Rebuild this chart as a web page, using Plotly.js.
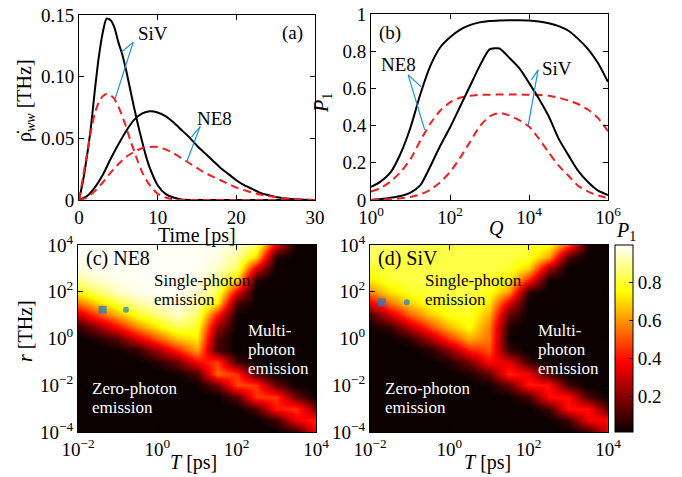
<!DOCTYPE html>
<html>
<head>
<meta charset="utf-8">
<script src="https://cdn.plot.ly/plotly-3.0.1.min.js"></script>
<style>html,body{margin:0;padding:0;background:#fff;}#chart{width:682px;height:477px;}</style>
</head>
<body>
<div id="chart"></div>
<script>
// ---------- Panel (a): emission rate vs time ----------
const tSiV = [0,0.5,1,1.5,2,2.5,3,3.5,4,4.5,5,5.5,6,6.5,7,7.5,8,8.5,9,10,11,12,13,15,20,30];
const sivSolidA = [0,0.015,0.035,0.058,0.088,0.115,0.135,0.147,0.146,0.14,0.128,0.118,0.105,0.09,0.075,0.061,0.048,0.036,0.026,0.012,0.005,0.002,0.0005,0,0,0];
const sivDashA  = [0,0.018,0.037,0.055,0.07,0.079,0.084,0.086,0.085,0.082,0.076,0.068,0.059,0.049,0.04,0.031,0.023,0.017,0.012,0.005,0.002,0.0005,0,0,0,0];
const tNE8 = [0,1,2,3,4,5,6,7,8,9,10,11,12,13,14,15,16,17,18,19,20,21,22,23,24,25,26,27,28,30];
const ne8SolidA = [0,0.003,0.01,0.02,0.033,0.045,0.056,0.065,0.07,0.072,0.071,0.068,0.063,0.057,0.051,0.044,0.038,0.032,0.026,0.021,0.016,0.012,0.009,0.006,0.004,0.0025,0.0015,0.0008,0.0004,0];
const ne8DashA  = [0,0.002,0.007,0.014,0.022,0.029,0.035,0.039,0.042,0.043,0.043,0.041,0.038,0.034,0.03,0.026,0.022,0.019,0.016,0.013,0.01,0.008,0.006,0.0045,0.0033,0.0023,0.0015,0.0009,0.0005,0];
const aXTicks = [0,10,20,30];
const aYTicks = [0,0.05,0.10,0.15];
const aYText  = ['0','0.05','0.10','0.15'];

// ---------- Panel (b): P1 vs Q ----------
const Q = [1,1.78,3.16,5.62,10,17.8,31.6,56.2,100,178,316,562,1000,1780,3160,5620,1e4,17800,31600,56200,1e5,178000,316000,562000,1e6];
const ne8SolidB = [0.07,0.1,0.15,0.25,0.39,0.57,0.72,0.82,0.875,0.915,0.94,0.955,0.962,0.965,0.966,0.966,0.965,0.96,0.95,0.935,0.91,0.865,0.81,0.735,0.635];
const ne8DashB  = [0.045,0.065,0.1,0.15,0.22,0.32,0.41,0.48,0.525,0.55,0.56,0.565,0.566,0.567,0.567,0.567,0.566,0.565,0.56,0.55,0.535,0.515,0.485,0.44,0.37];
const sivSolidB = [0,0.005,0.012,0.022,0.04,0.08,0.18,0.29,0.39,0.5,0.61,0.72,0.81,0.815,0.765,0.71,0.63,0.545,0.45,0.33,0.24,0.155,0.095,0.05,0.027];
const sivDashB  = [0,0.002,0.005,0.009,0.016,0.03,0.055,0.095,0.15,0.225,0.31,0.395,0.45,0.468,0.455,0.43,0.395,0.33,0.255,0.185,0.13,0.075,0.045,0.024,0.01];
const bXTicks = [1,100,1e4,1e6];
const bXText  = ['10<sup>0</sup>','10<sup>2</sup>','10<sup>4</sup>','10<sup>6</sup>'];
const bYTicks = [0,0.2,0.4,0.6,0.8,1];
const bYText  = ['0','0.2','0.4','0.6','0.8','1'];

// ---------- Panels (c),(d): P1 maps over log10 T (ps) and log10 r (THz) ----------
const logT = [-2,-1.5,-1,-0.5,0,0.5,1,1.5,2,2.5,3,3.5,4];
const logR = [-4,-3.5,-3,-2.5,-2,-1.5,-1,-0.5,0,0.5,1,1.5,2,2.5,3,3.5,4];
const pNE8 = [
 [0,0,0,0,0,0,0,0,0,0,0,0.07,0.36],
 [0,0,0,0,0,0,0,0,0,0,0.09,0.36,0.44],
 [0,0,0,0,0,0,0,0,0,0.11,0.41,0.46,0.18],
 [0,0,0,0,0,0,0,0,0.13,0.46,0.46,0.16,0.01],
 [0,0,0,0,0,0,0.01,0.16,0.49,0.46,0.14,0.01,0],
 [0,0,0,0,0,0.02,0.11,0.53,0.45,0.11,0.01,0,0],
 [0,0,0,0,0.05,0.16,0.38,0.47,0.10,0,0,0,0],
 [0,0,0.02,0.07,0.24,0.43,0.62,0.10,0,0,0,0,0],
 [0,0.04,0.13,0.32,0.50,0.66,0.73,0.11,0,0,0,0,0],
 [0.06,0.22,0.40,0.58,0.72,0.84,0.79,0.23,0,0,0,0,0],
 [0.30,0.48,0.64,0.78,0.87,0.945,0.86,0.42,0.01,0,0,0,0],
 [0.55,0.70,0.82,0.91,0.955,0.98,0.91,0.73,0.11,0,0,0,0],
 [0.76,0.86,0.945,0.98,0.99,0.99,0.95,0.85,0.35,0,0,0,0],
 [0.90,0.955,0.98,0.99,0.99,0.99,0.97,0.90,0.70,0.05,0,0,0],
 [0.965,0.99,0.99,0.99,0.99,0.99,0.99,0.95,0.85,0.35,0,0,0],
 [0.99,0.99,0.99,0.99,0.99,0.99,0.99,0.97,0.90,0.70,0.05,0,0],
 [0.99,0.99,0.99,0.99,0.99,0.99,0.99,0.99,0.95,0.85,0.35,0,0]
];
const pSiV = [
 [0,0,0,0,0,0,0,0,0,0,0,0.07,0.33],
 [0,0,0,0,0,0,0,0,0,0,0.09,0.37,0.39],
 [0,0,0,0,0,0,0,0,0,0.09,0.40,0.40,0.13],
 [0,0,0,0,0,0,0,0.01,0.10,0.40,0.40,0.11,0],
 [0,0,0,0,0,0,0.02,0.15,0.42,0.40,0.09,0,0],
 [0,0,0,0,0,0.03,0.14,0.44,0.36,0.09,0,0,0],
 [0,0,0,0,0.04,0.17,0.39,0.34,0.08,0,0,0,0],
 [0,0,0,0.05,0.20,0.42,0.50,0.07,0,0,0,0,0],
 [0,0,0.06,0.24,0.45,0.63,0.55,0.02,0,0,0,0,0],
 [0.01,0.08,0.28,0.48,0.65,0.76,0.57,0.04,0,0,0,0,0],
 [0.10,0.31,0.52,0.67,0.77,0.79,0.64,0.14,0,0,0,0,0],
 [0.35,0.55,0.69,0.78,0.81,0.81,0.72,0.33,0,0,0,0,0],
 [0.58,0.71,0.79,0.81,0.82,0.82,0.78,0.60,0.05,0,0,0,0],
 [0.73,0.80,0.82,0.82,0.82,0.82,0.81,0.74,0.42,0.02,0,0,0],
 [0.80,0.82,0.82,0.82,0.82,0.82,0.82,0.80,0.69,0.25,0,0,0],
 [0.84,0.83,0.82,0.82,0.82,0.82,0.82,0.82,0.79,0.62,0.11,0,0],
 [0.86,0.85,0.84,0.83,0.82,0.82,0.82,0.82,0.81,0.76,0.50,0.03,0]
];
// marked operating points (log10 T, log10 r)
const ne8PtsT = [-1.38,-0.79], ne8PtsR = [1.23,1.23];
const sivPtsT = [-1.70,-1.07], sivPtsR = [1.55,1.55];
const mapXTicks = [-2,0,2,4];
const mapXText  = ['10<sup>−2</sup>','10<sup>0</sup>','10<sup>2</sup>','10<sup>4</sup>'];
const mapYTicks = [-4,-2,0,2,4];
const mapYText  = ['10<sup>−4</sup>','10<sup>−2</sup>','10<sup>0</sup>','10<sup>2</sup>','10<sup>4</sup>'];
const cbTicks = [0.2,0.4,0.6,0.8];

// ---------- styling ----------
const serif = 'Liberation Serif, Times New Roman, serif';
const F = {family: serif, size: 19, color: '#000'};
const FT = {family: serif, size: 20, color: '#000'};
const BLK = '#000000', RED = 'rgb(240,30,30)', BLUE = 'rgb(28,145,212)', MARK = 'rgb(25,120,215)';
const hot = [[0,'rgb(12,0,0)'],[0.375,'rgb(255,0,0)'],[0.75,'rgb(255,255,0)'],[1,'rgb(255,255,255)']];

function solid(x,y,xa,ya){return {x:x,y:y,xaxis:xa,yaxis:ya,mode:'lines',line:{color:BLK,width:2,shape:'spline',smoothing:0.6},hoverinfo:'skip',showlegend:false};}
function dashed(x,y,xa,ya){return {x:x,y:y,xaxis:xa,yaxis:ya,mode:'lines',line:{color:RED,width:2,dash:'8px,5px',shape:'spline',smoothing:0.6},hoverinfo:'skip',showlegend:false};}
function heat(z,xa,ya){return {type:'heatmap',x:logT,y:logR,z:z,xaxis:xa,yaxis:ya,coloraxis:'coloraxis',zsmooth:'best',hoverinfo:'skip'};}
function pts(x,y,xa,ya){return {x:x,y:y,xaxis:xa,yaxis:ya,mode:'markers',marker:{color:MARK,size:[8,6],symbol:['square','circle'],line:{width:0}},hoverinfo:'skip',showlegend:false};}

const data = [
  solid(tSiV,sivSolidA,'x','y'), dashed(tSiV,sivDashA,'x','y'),
  solid(tNE8,ne8SolidA,'x','y'), dashed(tNE8,ne8DashA,'x','y'),
  solid(Q,ne8SolidB,'x2','y2'), dashed(Q,ne8DashB,'x2','y2'),
  solid(Q,sivSolidB,'x2','y2'), dashed(Q,sivDashB,'x2','y2'),
  heat(pNE8,'x3','y3'), heat(pSiV,'x4','y4'),
  pts(ne8PtsT,ne8PtsR,'x3','y3'), pts(sivPtsT,sivPtsR,'x4','y4')
];

function ax(extra){
  return Object.assign({showline:true,linecolor:'#000',linewidth:1,mirror:'allticks',ticks:'inside',ticklen:5,tickcolor:'#000',
    showgrid:false,zeroline:false,tickfont:F,fixedrange:true},extra);
}

function seg(xr,yr,x0,y0,x1,y1){return {type:'line',xref:xr,yref:yr,x0:x0,y0:y0,x1:x1,y1:y1,line:{color:BLUE,width:1.2}};}
function txt(xr,yr,x,y,s,anchor,col,size){return {xref:xr,yref:yr,x:x,y:y,text:s,showarrow:false,xanchor:anchor||'left',yanchor:'middle',font:{family:serif,size:size||17,color:col||'#000'}};}
// axis titles placed in paper coordinates
function atitle(x,y,s,angle){return {xref:'paper',yref:'paper',x:x,y:y,text:s,showarrow:false,xanchor:'center',yanchor:'middle',textangle:angle||0,font:FT};}

const layout = {
  width:682, height:477, margin:{l:0,r:0,t:0,b:0}, paper_bgcolor:'#fff', plot_bgcolor:'#fff',
  font:F, showlegend:false,
  xaxis: ax({domain:[0.1158,0.4619],anchor:'y',range:[0,30],tickvals:aXTicks}),
  yaxis: ax({domain:[0.5807,0.9686],anchor:'x',range:[0,0.15],tickvals:aYTicks,ticktext:aYText}),
  xaxis2: ax({domain:[0.544,0.8915],anchor:'y2',type:'log',range:[0,6],tickvals:bXTicks,ticktext:bXText}),
  yaxis2: ax({domain:[0.5807,0.9706],anchor:'x2',range:[0,1],tickvals:bYTicks,ticktext:bYText}),
  xaxis3: ax({domain:[0.1144,0.4633],anchor:'y3',range:[-2,4],tickvals:mapXTicks,ticktext:mapXText}),
  yaxis3: ax({domain:[0.0943,0.4864],anchor:'x3',range:[-4,4],tickvals:mapYTicks,ticktext:mapYText}),
  xaxis4: ax({domain:[0.5425,0.8915],anchor:'y4',range:[-2,4],tickvals:mapXTicks,ticktext:mapXText}),
  yaxis4: ax({domain:[0.0943,0.4864],anchor:'x4',range:[-4,4],tickvals:mapYTicks,ticktext:mapYText}),
  coloraxis:{colorscale:hot,cmin:0.01,cmax:1,
    colorbar:{x:0.9018,xanchor:'left',y:0.0943,yanchor:'bottom',len:0.392,lenmode:'fraction',thickness:18,thicknessmode:'pixels',
      tickvals:cbTicks,ticks:'inside',ticklen:4,tickcolor:'#000',tickfont:F,outlinewidth:1,outlinecolor:'#000',xpad:0,ypad:0}},
  shapes:[
    seg('x','y',6.9,0.128,5.42,0.12), seg('x','y',6.9,0.128,4.58,0.082),
    seg('x','y',15.4,0.0595,14.3,0.051), seg('x','y',15.4,0.0595,13.7,0.031),
    seg('x2','y2',8.71,0.673,19.05,0.607), seg('x2','y2',8.71,0.673,22.9,0.377),
    seg('x2','y2',16982,0.70,11482,0.646), seg('x2','y2',16982,0.70,9550,0.40)
  ],
  annotations:[
    atitle(0.2889,0.5073,'Time [ps]'),
    atitle(0.0381,0.7904,'ρ̇<sub><i>ww</i></sub> [THz]',-90),
    atitle(0.7287,0.5220,'<i>Q</i>'),
    atitle(0.4721,0.784,'<i>P</i><sub>1</sub>',-90),
    atitle(0.283,0.0294,'<i>T</i> [ps]'),
    atitle(0.7155,0.0294,'<i>T</i> [ps]'),
    atitle(0.0367,0.3061,'<i>r</i> [THz]',-90),
    atitle(0.918,0.5157,'<i>P</i><sub>1</sub>'),
    txt('x','y',7.3,0.135,'SiV','left','#000',19), txt('x','y',14.7,0.066,'NE8','left','#000',19), txt('x','y',27.2,0.135,'(a)','center','#000',19),
    txt('x2','y2',0.48,0.9,'(b)','center','#000',19), txt('x2','y2',0.2,0.727,'NE8','left','#000',19), txt('x2','y2',4.27,0.709,'SiV','left','#000',19),
    txt('x3','y3',-1.84,3.44,'(c) NE8','left','#000',20),
    txt('x3','y3',-0.13,2.5,'Single-photon'), txt('x3','y3',-0.13,1.68,'emission'),
    txt('x3','y3',2.24,0.34,'Multi-','left','#fff'), txt('x3','y3',2.24,-0.48,'photon','left','#fff'), txt('x3','y3',2.24,-1.30,'emission','left','#fff'),
    txt('x3','y3',-1.71,-2.15,'Zero-photon','left','#fff'), txt('x3','y3',-1.71,-2.97,'emission','left','#fff'),
    txt('x4','y4',-1.84,3.44,'(d) SiV','left','#000',20),
    txt('x4','y4',-0.66,2.5,'Single-photon'), txt('x4','y4',-0.66,1.68,'emission'),
    txt('x4','y4',2.19,0.34,'Multi-','left','#fff'), txt('x4','y4',2.19,-0.48,'photon','left','#fff'), txt('x4','y4',2.19,-1.30,'emission','left','#fff'),
    txt('x4','y4',-1.67,-2.15,'Zero-photon','left','#fff'), txt('x4','y4',-1.67,-2.97,'emission','left','#fff')
  ]
};

Plotly.newPlot('chart', data, layout, {staticPlot:true, displayModeBar:false});
</script>
</body>
</html>
